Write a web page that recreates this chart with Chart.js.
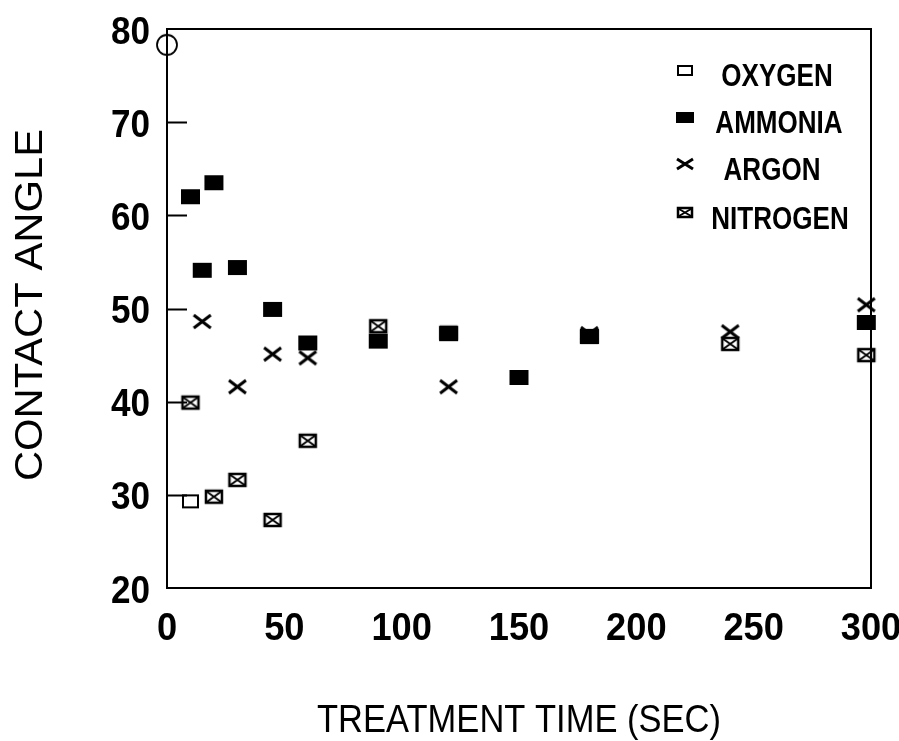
<!DOCTYPE html>
<html>
<head>
<meta charset="utf-8">
<script src="https://cdn.jsdelivr.net/npm/chart.js@4/dist/chart.umd.min.js"></script>
<style>
  html, body { margin: 0; padding: 0; background: #fff; }
  #wrap { width: 899px; height: 741px; }
</style>
</head>
<body>
<div id="wrap"><canvas id="chart" width="899" height="741"></canvas></div>
<script>
// values
const xTicks = [0, 50, 100, 150, 200, 250, 300];
const yTicks = [20, 30, 40, 50, 60, 70, 80];

const untreatedTime = [0];
const untreatedAngle = [78.3];

const oxygenTime = [10];
const oxygenAngle = [29.3];

const ammoniaTime = [10, 15, 20, 30, 45, 60, 90, 120, 150, 180, 298];
const ammoniaAngle = [62.0, 54.1, 63.5, 54.4, 49.9, 46.3, 46.5, 47.3, 42.6, 47.0, 48.5];

const argonTime = [15, 30, 45, 60, 120, 180, 240, 298];
const argonAngle = [48.6, 41.6, 45.1, 44.7, 41.6, 47.3, 47.5, 50.4];

const nitrogenTime = [10, 20, 30, 45, 60, 90, 120, 180, 240, 298];
const nitrogenAngle = [39.9, 29.8, 31.6, 27.3, 35.8, 48.1, 47.4, 47.0, 46.2, 45.0];

const legendLabels = ["OXYGEN", "AMMONIA", "ARGON", "NITROGEN"];

const fontFamily = '"Liberation Sans", Arial, sans-serif';

function toPoints(xs, ys) {
  return xs.map((x, i) => ({ x: x, y: ys[i] }));
}

// marker glyphs drawn once into small canvases
function makeMarker(kind, w, h) {
  const c = document.createElement("canvas");
  c.width = w + 4;
  c.height = h + 4;
  const g = c.getContext("2d");
  g.strokeStyle = "#000";
  g.fillStyle = "#000";
  g.lineWidth = 2;
  const x0 = 2, y0 = 2;
  if (kind === "open") {
    g.strokeRect(x0 + 1, y0 + 1, w - 2, h - 2);
  } else if (kind === "filled") {
    g.fillRect(x0, y0, w, h);
  } else if (kind === "cross") {
    g.lineWidth = 3;
    g.beginPath();
    g.moveTo(x0 + 1, y0 + 1); g.lineTo(x0 + w - 1, y0 + h - 1);
    g.moveTo(x0 + w - 1, y0 + 1); g.lineTo(x0 + 1, y0 + h - 1);
    g.stroke();
  } else if (kind === "crossbox") {
    g.lineWidth = 2.5;
    g.strokeRect(x0 + 1, y0 + 1, w - 2, h - 2);
    g.lineWidth = 2;
    g.beginPath();
    g.moveTo(x0 + 2, y0 + 2); g.lineTo(x0 + w - 2, y0 + h - 2);
    g.moveTo(x0 + w - 2, y0 + 2); g.lineTo(x0 + 2, y0 + h - 2);
    g.stroke();
  } else if (kind === "circle") {
    g.lineWidth = 1.8;
    g.beginPath();
    g.arc(c.width / 2, c.height / 2, w / 2 - 1, 0, Math.PI * 2);
    g.stroke();
  }
  return c;
}

const markers = {
  untreated: makeMarker("circle", 22, 22),
  oxygen: makeMarker("open", 17, 14),
  ammonia: makeMarker("filled", 19, 15),
  argon: makeMarker("cross", 19, 15),
  nitrogen: makeMarker("crossbox", 18, 14),
};
const legendMarkers = [
  makeMarker("open", 16, 11),
  makeMarker("filled", 18, 11),
  makeMarker("cross", 18, 12),
  makeMarker("crossbox", 16, 11),
];

function series(label, key, xs, ys) {
  return {
    label: label,
    data: toPoints(xs, ys),
    pointStyle: markers[key],
    pointRadius: 10,
    pointHoverRadius: 10,
    showLine: false,
    clip: false,
  };
}

// condensed text: squeeze along the writing direction
function drawText(ctx, str, x, y, font, align, sx, rot) {
  ctx.save();
  ctx.translate(x, y);
  if (rot) ctx.rotate(rot);
  ctx.scale(sx, 1);
  ctx.font = font;
  ctx.textAlign = align;
  ctx.textBaseline = "alphabetic";
  ctx.fillText(str, 0, 0);
  ctx.restore();
}

// frame, inward y ticks, tick labels, titles and legend
const framePlugin = {
  id: "frame",
  afterDatasetsDraw(chart) {
    const { ctx, chartArea: a, scales } = chart;
    ctx.save();
    ctx.strokeStyle = "#000";
    ctx.fillStyle = "#000";
    ctx.lineWidth = 2;
    ctx.strokeRect(a.left, a.top, a.right - a.left, a.bottom - a.top);
    ctx.beginPath();
    yTicks.slice(1, -1).forEach((v) => {
      const y = Math.round(scales.y.getPixelForValue(v)) + 0.5;
      ctx.moveTo(a.left, y);
      ctx.lineTo(a.left + 20, y);
    });
    ctx.stroke();

    const tickFont = "bold 39px " + fontFamily;
    yTicks.forEach((v) => {
      drawText(ctx, String(v), a.left - 17, scales.y.getPixelForValue(v) + 14.5, tickFont, "right", 0.9);
    });
    xTicks.forEach((v) => {
      drawText(ctx, String(v), scales.x.getPixelForValue(v), 640, tickFont, "center", 0.93);
    });

    drawText(ctx, "TREATMENT TIME (SEC)", 519, 732, "39px " + fontFamily, "center", 0.885);
    drawText(ctx, "CONTACT ANGLE", 42, 305, "38px " + fontFamily, "center", 1.1, -Math.PI / 2);

    // legend
    const rowBase = [86, 133, 180, 229];
    const rowMark = [70.5, 117.5, 164, 212.5];
    const rowText = [777, 779, 772, 780];
    const legendFont = "bold 31px " + fontFamily;
    legendLabels.forEach((label, i) => {
      const img = legendMarkers[i];
      ctx.drawImage(img, 685 - img.width / 2, rowMark[i] - img.height / 2);
      drawText(ctx, label, rowText[i], rowBase[i], legendFont, "center", 0.84);
    });
    ctx.restore();
  },
};

function init() {
  const ctx = document.getElementById("chart").getContext("2d");
  new Chart(ctx, {
    type: "scatter",
    data: {
      datasets: [
        series("UNTREATED", "untreated", untreatedTime, untreatedAngle),
        series(legendLabels[0], "oxygen", oxygenTime, oxygenAngle),
        series(legendLabels[1], "ammonia", ammoniaTime, ammoniaAngle),
        series(legendLabels[2], "argon", argonTime, argonAngle),
        series(legendLabels[3], "nitrogen", nitrogenTime, nitrogenAngle),
      ],
    },
    options: {
      responsive: false,
      animation: false,
      layout: { padding: { left: 0, top: 29, right: 28, bottom: 0 } },
      plugins: {
        legend: { display: false },
        tooltip: { enabled: false },
      },
      scales: {
        x: {
          type: "linear",
          min: 0,
          max: 300,
          afterBuildTicks: (s) => { s.ticks = xTicks.map((v) => ({ value: v })); },
          afterFit: (s) => { s.height = 153; },
          grid: { display: false, drawTicks: false },
          border: { display: false },
          ticks: { display: false },
        },
        y: {
          type: "linear",
          min: 20,
          max: 80,
          afterBuildTicks: (s) => { s.ticks = yTicks.map((v) => ({ value: v })); },
          afterFit: (s) => { s.width = 167; },
          grid: { display: false, drawTicks: false },
          border: { display: false },
          ticks: { display: false },
        },
      },
    },
    plugins: [framePlugin],
  });
}

document.addEventListener("DOMContentLoaded", init);
</script>
</body>
</html>
